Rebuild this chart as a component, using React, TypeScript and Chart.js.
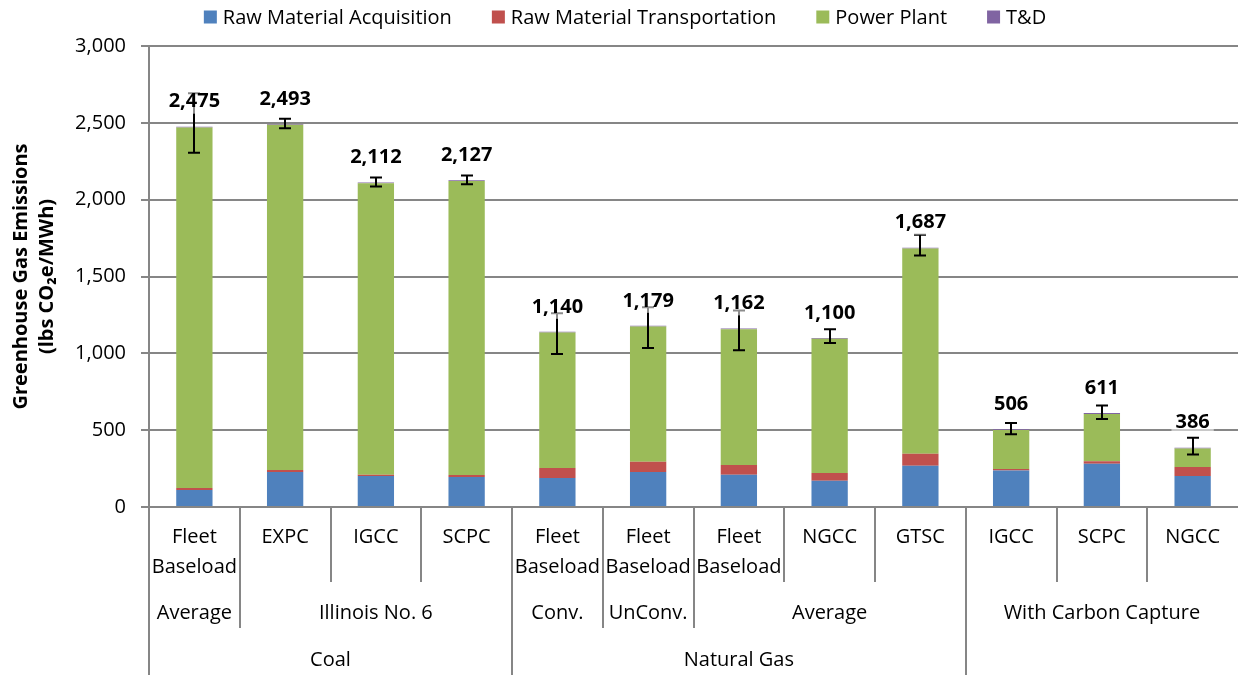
import React, { useEffect, useRef } from "react";
import { Chart, registerables } from "chart.js";

Chart.register(...registerables);

const categoryLabels: string[][] = [
  ["Fleet", "Baseload"], ["EXPC"], ["IGCC"], ["SCPC"],
  ["Fleet", "Baseload"], ["Fleet", "Baseload"], ["Fleet", "Baseload"], ["NGCC"], ["GTSC"],
  ["IGCC"], ["SCPC"], ["NGCC"],
];
const subGroupLabels = ["Average", "Illinois No. 6", "Conv.", "UnConv.", "Average", "With Carbon Capture"];
const subGroupSpans = [1, 3, 1, 1, 3, 3];
const fuelLabels = ["Coal", "Natural Gas", ""];
const fuelSpans = [4, 5, 3];

const seriesNames = ["Raw Material Acquisition", "Raw Material Transportation", "Power Plant", "T&D"];
const seriesColors = ["#4F81BD", "#C0504D", "#9BBB59", "#8064A2"];

const rawMaterialAcquisition = [110, 228, 202, 195, 189, 228, 210, 171, 268, 237, 281, 202];
const rawMaterialTransportation = [13, 13, 8, 13, 65, 66, 64, 50, 78, 11, 17, 59];
const powerPlant = [2347, 2247, 1897, 1914, 881, 880, 883, 874, 1336, 253, 308, 120];
const transmissionDistribution = [5, 5, 5, 5, 5, 5, 5, 5, 5, 5, 5, 5];

const totals = [2475, 2493, 2112, 2127, 1140, 1179, 1162, 1100, 1687, 506, 611, 386];
const errorLow = [2305, 2465, 2085, 2101, 996, 1035, 1020, 1068, 1636, 474, 572, 342];
const errorHigh = [2693, 2526, 2144, 2157, 1261, 1300, 1278, 1157, 1771, 546, 660, 450];

const yMin = 0;
const yMax = 3000;
const yStep = 500;

const FONT = "'Open Sans', sans-serif";
const GRID = "#868686";

const overlayPlugin = {
  id: "overlay",
  afterDatasetsDraw(chart: any) {
    const ctx = chart.ctx;
    const xs = chart.scales.x;
    const ys = chart.scales.y;
    ctx.save();
    ctx.strokeStyle = "#000";
    ctx.lineWidth = 2;
    totals.forEach((_, i) => {
      const cx = Math.round(xs.getPixelForValue(i));
      const yl = ys.getPixelForValue(errorLow[i]);
      const yh = ys.getPixelForValue(errorHigh[i]);
      ctx.beginPath();
      ctx.moveTo(cx, yl);
      ctx.lineTo(cx, yh);
      ctx.moveTo(cx - 6, yl);
      ctx.lineTo(cx + 6, yl);
      ctx.moveTo(cx - 6, yh);
      ctx.lineTo(cx + 6, yh);
      ctx.stroke();
    });
    ctx.font = `bold 20px ${FONT}`;
    ctx.textAlign = "center";
    ctx.textBaseline = "middle";
    totals.forEach((t, i) => {
      const cx = xs.getPixelForValue(i);
      const cy = ys.getPixelForValue(t) - 26;
      const txt = t.toLocaleString("en-US");
      const w = ctx.measureText(txt).width;
      ctx.fillStyle = "rgba(255,255,255,0.55)";
      ctx.fillRect(cx - w / 2 - 4, cy - 13, w + 8, 26);
      ctx.fillStyle = "#000";
      ctx.fillText(txt, cx, cy + 1);
    });
    ctx.restore();
  },
  afterDraw(chart: any) {
    const ctx = chart.ctx;
    const xs = chart.scales.x;
    const n = totals.length;
    const top = xs.top;
    ctx.save();

    // legend
    ctx.font = `20px ${FONT}`;
    ctx.textBaseline = "middle";
    ctx.textAlign = "left";
    const box = 13;
    const gapBox = 6;
    const gapItem = 40;
    const widths = seriesNames.map((s) => box + gapBox + ctx.measureText(s).width);
    const totalW = widths.reduce((a, b) => a + b, 0) + gapItem * (seriesNames.length - 1);
    let lx = chart.width / 2 + 6 - totalW / 2;
    const ly = 17;
    seriesNames.forEach((s, i) => {
      ctx.fillStyle = seriesColors[i];
      ctx.fillRect(lx, ly - box / 2, box, box);
      ctx.fillStyle = "#000";
      ctx.fillText(s, lx + box + gapBox, ly + 1);
      lx += widths[i] + gapItem;
    });

    // separators
    const edge = (i: number) =>
      i === 0 ? xs.left : i === n ? xs.right : (xs.getPixelForValue(i - 1) + xs.getPixelForValue(i)) / 2;
    const fuelB = new Set<number>();
    let acc = 0;
    fuelB.add(0);
    fuelSpans.forEach((s) => { acc += s; fuelB.add(acc); });
    const subB = new Set<number>();
    acc = 0;
    subB.add(0);
    subGroupSpans.forEach((s) => { acc += s; subB.add(acc); });
    const row1B = top + 75;
    const row2B = top + 121;
    ctx.strokeStyle = GRID;
    ctx.lineWidth = 2;
    for (let i = 0; i < n; i++) {
      const bx = Math.round(edge(i));
      const bottom = fuelB.has(i) ? xs.bottom : subB.has(i) ? row2B : row1B;
      ctx.beginPath();
      ctx.moveTo(bx, top);
      ctx.lineTo(bx, bottom);
      ctx.stroke();
    }

    // labels
    ctx.fillStyle = "#000";
    ctx.textAlign = "center";
    ctx.font = `20px ${FONT}`;
    categoryLabels.forEach((lines, i) => {
      const cx = xs.getPixelForValue(i);
      lines.forEach((ln, k) => ctx.fillText(ln, cx, top + 30 + k * 30));
    });
    acc = 0;
    subGroupLabels.forEach((lab, g) => {
      const x0 = edge(acc);
      const x1 = edge(acc + subGroupSpans[g]);
      ctx.fillText(lab, (x0 + x1) / 2, top + 106);
      acc += subGroupSpans[g];
    });
    acc = 0;
    fuelLabels.forEach((lab, g) => {
      const x0 = edge(acc);
      const x1 = edge(acc + fuelSpans[g]);
      if (lab) ctx.fillText(lab, (x0 + x1) / 2, top + 153);
      acc += fuelSpans[g];
    });
    ctx.restore();
  },
};

export default function App() {
  const ref = useRef<HTMLCanvasElement | null>(null);
  useEffect(() => {
    document.body.style.margin = "0";
    if (!ref.current) return;
    Chart.defaults.font.family = FONT;
    const series = [rawMaterialAcquisition, rawMaterialTransportation, powerPlant, transmissionDistribution];
    const chart = new Chart(ref.current, {
      type: "bar",
      data: {
        labels: categoryLabels.map((l) => l.join(" ")),
        datasets: series.map((d, i) => ({
          label: seriesNames[i],
          data: d,
          backgroundColor: seriesColors[i],
          borderWidth: 0,
          stack: "s",
          barPercentage: 0.4,
          categoryPercentage: 1,
        })),
      },
      options: {
        animation: false,
        responsive: false,
        devicePixelRatio: 1,
        layout: { padding: { top: 46, left: 0, right: 0, bottom: 0 } },
        plugins: { legend: { display: false }, tooltip: { enabled: false } },
        scales: {
          x: {
            stacked: true,
            grid: { display: false },
            border: { display: true, color: GRID, width: 2 },
            ticks: { display: false },
            afterFit: (s: any) => { s.height = 168; },
          },
          y: {
            stacked: true,
            min: yMin,
            max: yMax,
            ticks: {
              stepSize: yStep,
              color: "#000",
              font: { size: 20 },
              padding: 15,
              callback: (v: any) => Number(v).toLocaleString("en-US"),
            },
            grid: { color: GRID, lineWidth: 2, tickLength: 8 },
            border: { display: true, color: GRID, width: 2 },
            title: {
              display: true,
              text: ["Greenhouse Gas Emissions", "(lbs CO\u2082e/MWh)"],
              color: "#000",
              font: { size: 20, weight: "bold", lineHeight: 1.3 },
              padding: { top: 8, bottom: 0 },
            },
            afterFit: (s: any) => { s.width = 149; },
          },
        },
      },
      plugins: [overlayPlugin],
    });
    return () => chart.destroy();
  }, []);
  return (
    <div style={{ width: 1238, height: 675 }}>
      <canvas ref={ref} width={1238} height={675} />
    </div>
  );
}
